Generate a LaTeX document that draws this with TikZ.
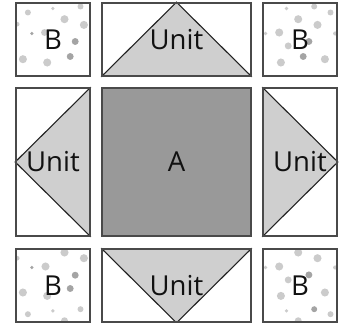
\documentclass[tikz,border=0pt]{standalone}
\usepackage{fontspec}
\setmainfont{Open Sans}
\pgfdeclarelayer{background}
\pgfdeclarelayer{canvas}
\pgfsetlayers{canvas,background,main}
\definecolor{edgec}{HTML}{4A4A4A}
\definecolor{diagc}{HTML}{222222}
\definecolor{darkfill}{HTML}{999999}
\definecolor{trifill}{HTML}{CFCFCF}
\definecolor{lightdot}{HTML}{CBCBCB}
\definecolor{darkdot}{HTML}{A4A4A4}
\definecolor{textc}{HTML}{111111}
\tikzset{
  patch/.style={draw=edgec, line width=1.6pt, inner sep=0pt, text=textc,
    font=\fontsize{27.5}{32}\selectfont},
  small/.style={patch, minimum width=74pt, minimum height=73pt},
  wide/.style={patch, minimum width=149pt, minimum height=73pt},
  tall/.style={patch, minimum width=74pt, minimum height=148pt},
  big/.style={patch, minimum width=149pt, minimum height=148pt, fill=darkfill},
  trifillst/.style={fill=trifill},
  diag/.style={draw=diagc, line width=1.1pt, line join=miter},
  ld/.style={fill=lightdot},
  dd/.style={fill=darkdot}
}
\newcommand{\spot}[4]{\fill[#1] (#2,#3) circle ({#4*1.15pt});}
\begin{document}
\begin{tikzpicture}[x=1pt,y=-1pt]
\useasboundingbox (0,0) rectangle (342,323);
\begin{pgfonlayer}{canvas}
  \fill[white] (0,0) rectangle (342,323);
\end{pgfonlayer}
% patches
\node[small] (btl) at (53,39.5) {B};
\node[wide]  (tu)  at (176.5,39.5) {Unit};
\node[small] (btr) at (300,39.5) {B};
\node[tall]  (lu)  at (53,162) {Unit};
\node[big]   (a)   at (176.5,162) {A};
\node[tall]  (ru)  at (300,162) {Unit};
\node[small] (bbl) at (53,285.5) {B};
\node[wide]  (bu)  at (176.5,285.5) {Unit};
\node[small] (bbr) at (300,285.5) {B};
\begin{pgfonlayer}{background}
  % triangles
  \fill[trifillst] (tu.south west) -- (tu.north) -- (tu.south east) -- cycle;
  \draw[diag] (tu.south west) -- (tu.north) -- (tu.south east);
  \fill[trifillst] (lu.north east) -- (lu.west) -- (lu.south east) -- cycle;
  \draw[diag] (lu.north east) -- (lu.west) -- (lu.south east);
  \fill[trifillst] (ru.north west) -- (ru.east) -- (ru.south west) -- cycle;
  \draw[diag] (ru.north west) -- (ru.east) -- (ru.south west);
  \fill[trifillst] (bu.north west) -- (bu.south) -- (bu.north east) -- cycle;
  \draw[diag] (bu.north west) -- (bu.south) -- (bu.north east);
  % dots top-left
  \begin{scope}[shift={(btl.north west)}]
    \clip (0,0) rectangle (74,73);
    \spot{ld}{12.7}{10.3}{2.6}
    \spot{ld}{37.7}{6.3}{1.6}
    \spot{ld}{65.3}{4.3}{2.6}
    \spot{ld}{49.3}{17}{3.5}
    \spot{ld}{68.7}{22.7}{3.5}
    \spot{ld}{2}{22}{2}
    \spot{dd}{16.7}{31.3}{1.6}
    \spot{ld}{29.3}{30.3}{3}
    \spot{dd}{60}{39.3}{3}
    \spot{ld}{7.7}{57}{3.5}
    \spot{ld}{32}{60.3}{3.5}
    \spot{dd}{55}{54.3}{3}
  \end{scope}
  % dots top-right
  \begin{scope}[shift={(btr.north west)}]
    \clip (0,0) rectangle (74,73);
    \spot{ld}{52}{4.3}{2.6}
    \spot{ld}{24.3}{6.3}{1.6}
    \spot{ld}{68.3}{10.3}{2.6}
    \spot{ld}{36}{17}{3.5}
    \spot{ld}{55.3}{22.7}{3.5}
    \spot{ld}{73}{31.3}{1.8}
    \spot{ld}{3.3}{31.3}{1.6}
    \spot{ld}{17}{30.3}{3.5}
    \spot{dd}{46.7}{39.3}{3}
    \spot{ld}{26}{43.7}{3}
    \spot{dd}{41}{54.3}{3}
    \spot{ld}{62.7}{57}{3.5}
    \spot{ld}{18.7}{60.3}{3.5}
  \end{scope}
  % dots bottom-left
  \begin{scope}[shift={(bbl.north west)}]
    \clip (0,0) rectangle (74,73);
    \spot{ld}{49.3}{4.3}{3.5}
    \spot{ld}{68.7}{10}{3.5}
    \spot{ld}{2}{10}{2}
    \spot{dd}{16.7}{19.3}{1.6}
    \spot{ld}{30.3}{18.3}{3.5}
    \spot{dd}{60}{27}{3}
    \spot{ld}{7.7}{44.3}{3.5}
    \spot{ld}{32}{47.7}{3.5}
    \spot{dd}{55}{40.3}{3}
    \spot{ld}{37.7}{62.7}{1.6}
    \spot{ld}{65.3}{61}{2.6}
    \spot{ld}{12.7}{66}{2.6}
    \spot{ld}{49.3}{72.5}{3}
  \end{scope}
  % dots bottom-right
  \begin{scope}[shift={(bbr.north west)}]
    \clip (0,0) rectangle (74,73);
    \spot{ld}{36}{4.3}{3.5}
    \spot{ld}{55.3}{10}{3.5}
    \spot{ld}{3.3}{19.3}{1.6}
    \spot{ld}{73}{19.3}{1.8}
    \spot{ld}{17}{18.3}{3.5}
    \spot{dd}{46.7}{26.7}{3}
    \spot{ld}{26}{31.7}{3}
    \spot{ld}{18.7}{47.7}{3.5}
    \spot{ld}{62.7}{44.3}{3.5}
    \spot{dd}{52}{61}{2.6}
    \spot{ld}{24.3}{62.7}{1.6}
    \spot{ld}{68.3}{66}{2.6}
    \spot{ld}{36}{72.5}{3}
  \end{scope}
\end{pgfonlayer}
\end{tikzpicture}
\end{document}
